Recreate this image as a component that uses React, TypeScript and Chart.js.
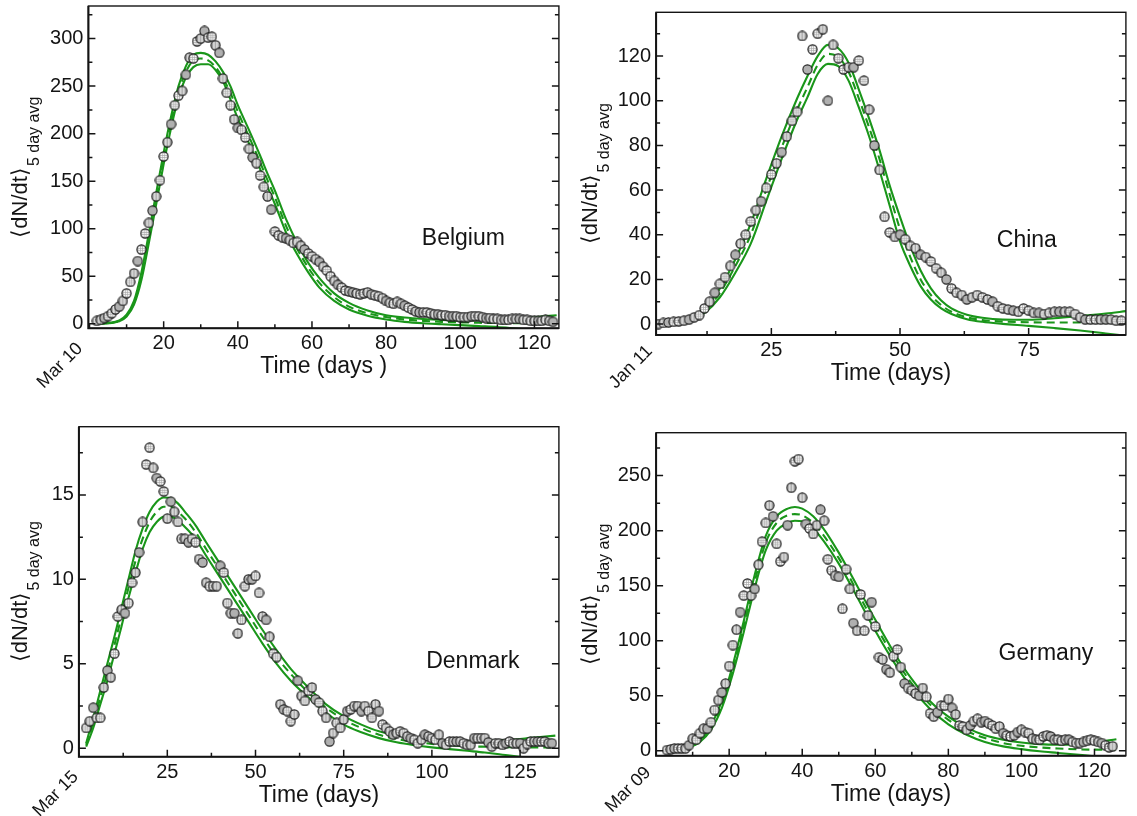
import React, { useEffect, useRef } from "react";
import { Chart, registerables } from "chart.js";

Chart.register(...registerables);

const W = 1137;
const H = 816;
const FONT = '"Liberation Sans", Arial, Helvetica, sans-serif';
const GREEN = "#1a961a";
const INK = "#141414";

// ---------------- Belgium ----------------
const belgiumStartDay = 2;
const belgiumValues = [
  3, 4, 6, 8, 11, 15, 18, 24, 32, 44, 53, 66, 78, 95, 106, 119, 134, 151, 176, 191,
  210, 230, 240, 245, 262, 280, 279, 297, 300, 308, 301, 302, 293, 285, 258, 243, 230, 215, 206, 204,
  196, 184, 175, 169, 156, 144, 134, 120, 97, 93, 91, 90, 88, 85, 86, 82, 78, 74, 71, 68,
  65, 60, 56, 50, 45, 41, 38, 35, 34, 33, 32, 31, 32, 33, 31, 30, 29, 27, 24, 22,
  21, 23, 21, 19, 17, 15, 13, 12, 12, 12, 11, 10, 10, 9, 9, 8, 8, 8, 7, 7,
  7, 8, 8, 8, 7, 6, 6, 5, 5, 4, 4, 4, 5, 5, 5, 4, 4, 3, 3, 3,
  3, 4, 3, 2,
];
const belgiumFitDays = [2, 4, 6, 8, 10, 12, 14, 16, 18, 20, 22, 24, 26, 28, 30, 32, 34, 36, 38, 40, 43, 46, 48, 50, 53, 56, 59, 62, 66, 70, 75, 80, 85, 90, 95, 100, 105, 110, 115, 120, 126];
const belgiumUpper = [0.2, 0.5, 1.2, 3.5, 9.5, 24, 54, 95, 138, 180, 218, 250, 271, 283, 285, 283, 276, 265, 250, 230, 204, 177, 158, 140, 110, 85, 64, 48, 32, 22, 14, 9, 6.5, 5, 4, 3.5, 3.7, 4.3, 5.3, 6.8, 9];
const belgiumMid = [0.15, 0.4, 1, 3, 8.5, 22, 50, 90, 132, 174, 212, 244, 265, 277, 279, 277, 270, 258, 243, 223, 197, 170, 151, 133, 103, 79, 59, 43, 28, 18, 11, 7, 4.5, 3, 2, 1.5, 1, 0.7, 0.5, 0.3, 0.2];
const belgiumLower = [0.1, 0.3, 0.8, 2.5, 7.5, 20, 46, 85, 126, 168, 206, 238, 259, 270, 273, 273, 267, 255, 236, 216, 190, 163, 144, 126, 96, 73, 54, 38, 24, 15, 8.5, 4.5, 2, 0.5, -0.5, -1.5, -2.5, -3.5, -5, -6.5, -8];
const belgiumXTicks = [20, 40, 60, 80, 100, 120];
const belgiumYTicks = [0, 50, 100, 150, 200, 250, 300];

// ---------------- China ----------------
const chinaStartDay = 3;
const chinaValues = [
  0, 0.5, 0.7, 1, 1.2, 1.5, 2, 3, 4, 7, 10, 14, 18, 21, 26, 31, 36, 40, 46, 51,
  55, 61, 67, 72, 77, 84, 91, 95, 129, 114, 123, 130, 132, 100, 125, 119, 114, 115, 115, 118,
  109, 96, 80, 69, 48, 41, 39, 40, 38, 35, 34, 31, 30, 28, 25, 23, 20, 16, 14, 13,
  11, 12, 13, 12, 11, 10, 8, 7, 6.5, 6, 5.5, 7, 6, 5, 5, 4.5, 5, 5.5, 5.5, 5.5,
  5.5, 4.5, 3, 2, 2, 2, 2, 2, 2, 1.5, 1.5,
];
const chinaFitDays = [3, 6, 9, 12, 15, 18, 21, 24, 27, 30, 32, 34, 36, 38, 40, 42, 44, 46, 48, 50, 52, 54, 56, 58, 60, 63, 66, 70, 75, 80, 85, 90, 94];
const chinaUpper = [0.3, 0.8, 2.2, 7, 16, 29, 45, 65, 84, 101, 111, 120, 125, 123.5, 117, 105, 92, 78, 62, 48, 35, 24, 16, 10.5, 7, 4.2, 2.8, 2, 1.9, 2.6, 3.6, 4.7, 5.8];
const chinaMid = [0.2, 0.6, 1.8, 6, 14, 26, 40, 60, 79, 96, 106, 116, 121, 119.5, 113, 101, 88, 74, 58, 42.5, 30, 20, 13, 8.5, 5.5, 3, 1.8, 1.1, 0.8, 0.7, 0.7, 0.7, 0.7];
const chinaLower = [0.1, 0.4, 1.4, 5, 12, 23, 36, 55, 74, 91.5, 101.5, 112, 116.5, 115.5, 109, 97, 84, 69, 53, 37, 26, 17, 11, 7, 4.5, 2.2, 1, 0.1, -0.8, -1.8, -2.9, -4.2, -5.3];
const chinaXTicks = [25, 50, 75];
const chinaYTicks = [0, 20, 40, 60, 80, 100, 120];

// ---------------- Denmark ----------------
const denmarkStartDay = 2;
const denmarkValues = [
  1.2, 1.6, 2.4, 1.8, 1.8, 3.6, 4.6, 4.2, 5.6, 7.8, 8.2, 8.0, 8.6, 9.8, 10.4, 11.6, 13.4, 16.8, 17.8, 16.6,
  16.0, 15.8, 15.2, 13.6, 14.6, 14.0, 13.4, 12.4, 12.4, 12.2, 12.4, 12.2, 11.2, 11.0, 9.8, 9.6, 9.6, 9.6, 10.8, 10.4,
  8.6, 8.0, 8.0, 6.8, 7.6, 9.6, 10.0, 10.0, 10.2, 9.2, 7.8, 7.6, 6.6, 5.6, 5.4, 2.6, 2.3, 2.2, 1.6, 2.0,
  4.0, 3.1, 2.8, 3.4, 3.6, 2.9, 2.7, 2.2, 1.8, 0.4, 0.9, 1.5, 1.2, 1.7, 2.2, 2.3, 2.5, 2.5, 2.2, 2.5,
  2.2, 1.8, 2.6, 2.2, 1.4, 1.2, 1.0, 0.8, 0.9, 1.0, 0.9, 0.7, 0.6, 0.5, 0.3, 0.5, 0.8, 0.7, 0.6, 0.5,
  0.8, 0.3, 0.2, 0.4, 0.4, 0.4, 0.4, 0.3, 0.2, 0.2, 0.6, 0.6, 0.6, 0.6, 0.35, 0.1, 0.3, 0.3, 0.2, 0.3,
  0.4, 0.3, 0.3, 0.3, 0.0, 0.25, 0.4, 0.4, 0.4, 0.4, 0.4, 0.3, 0.3,
];
const denmarkFitDays = [2, 4, 6, 8, 10, 12, 14, 16, 18, 20, 22, 24, 26, 28, 30, 33, 36, 40, 44, 48, 52, 56, 60, 65, 70, 75, 80, 85, 90, 95, 100, 105, 110, 115, 120, 125, 130, 135];
const denmarkUpper = [0.3, 1.8, 3.4, 5.0, 6.6, 8.3, 10.0, 11.7, 13.0, 14.0, 14.6, 14.85, 14.8, 14.5, 14.0, 13.2, 12.2, 10.9, 9.6, 8.3, 7.0, 5.8, 4.7, 3.6, 2.6, 1.9, 1.4, 1.0, 0.75, 0.6, 0.5, 0.42, 0.4, 0.42, 0.48, 0.55, 0.65, 0.75];
const denmarkMid = [0.2, 1.5, 3.0, 4.5, 6.1, 7.8, 9.5, 11.1, 12.4, 13.4, 14.0, 14.3, 14.3, 14.0, 13.6, 12.8, 11.8, 10.5, 9.2, 7.9, 6.6, 5.4, 4.4, 3.3, 2.4, 1.7, 1.2, 0.8, 0.55, 0.38, 0.26, 0.18, 0.12, 0.09, 0.07, 0.06, 0.05, 0.05];
const denmarkLower = [0.1, 1.2, 2.6, 4.0, 5.6, 7.2, 8.9, 10.4, 11.8, 12.8, 13.4, 13.7, 13.7, 13.5, 13.1, 12.4, 11.4, 10.1, 8.8, 7.5, 6.2, 5.0, 4.0, 3.0, 2.1, 1.4, 0.95, 0.6, 0.35, 0.18, 0.05, -0.05, -0.15, -0.25, -0.38, -0.5, -0.65, -0.8];
const denmarkXTicks = [25, 50, 75, 100, 125];
const denmarkYTicks = [0, 5, 10, 15];

// ---------------- Germany ----------------
const germanyStartDay = 3;
const germanyValues = [
  0.6, 1.2, 2, 2, 2, 2, 5, 11, 10, 16, 20, 20, 26, 37, 46, 53, 61, 77, 96, 110,
  126, 141, 152, 141, 147, 169, 190, 207, 223, 213, 188, 172, 176, 205, 239, 263, 265, 230, 206, 202,
  197, 205, 219, 209, 174, 164, 159, 158, 129, 165, 147, 116, 109, 142, 109, 123, 135, 113, 85, 83,
  74, 71, 86, 92, 76, 61, 57, 55, 52, 50, 57, 49, 34, 31, 35, 41, 41, 47, 39, 33,
  23, 22, 19, 23, 27, 29, 26, 27, 25, 23, 20, 22, 16, 14, 13, 14, 17, 19, 17, 16,
  11, 10, 10, 13, 14, 13, 10, 10, 9, 10, 10, 8, 7, 7, 8, 9, 10, 9, 8, 7,
  5, 3, 4,
];
const germanyFitDays = [3, 6, 9, 12, 15, 18, 21, 24, 27, 30, 33, 36, 38, 40, 43, 46, 50, 55, 60, 65, 70, 75, 80, 85, 90, 95, 100, 105, 110, 115, 120, 126];
const germanyUpper = [0.5, 1.5, 4, 10, 23, 45, 78, 118, 160, 195, 213, 220, 221.5, 220, 213, 201, 180, 150, 119, 90, 65, 45, 31, 21, 14, 10, 7.5, 6, 5.5, 6, 7.5, 10.5];
const germanyMid = [0.4, 1.2, 3.5, 9, 21, 42, 74, 113, 154, 189, 207, 214, 215, 214, 207, 195, 175, 145, 114, 86, 61, 42, 28, 18, 11.5, 7, 4.5, 3, 2, 1.3, 1, 0.8];
const germanyLower = [0.3, 1, 3, 8, 19, 39, 70, 108, 148, 182, 200, 207, 209, 208.5, 202, 190, 170, 140, 109, 81, 57, 38, 24, 14.5, 8, 4, 1.5, -0.5, -2, -3.5, -5, -6.5];
const germanyXTicks = [20, 40, 60, 80, 100, 120];
const germanyYTicks = [0, 50, 100, 150, 200, 250];

type PanelSpec = {
  name: string;
  date: string;
  xTitle: string;
  startDay: number;
  values: number[];
  fitDays: number[];
  upper: number[];
  mid: number[];
  lower: number[];
  xTicks: number[];
  yTicks: number[];
  xMinorStep: number;
  yMinorStep: number;
  xMin: number;
  xMax: number;
  yMin: number;
  yMax: number;
  area: { left: number; top: number; right: number; bottom: number };
  namePos: [number, number];
  titleX: number;
  dateOff: [number, number];
};

const panels: PanelSpec[] = [
  {
    name: "Belgium", date: "Mar 10", xTitle: "Time (days )",
    startDay: belgiumStartDay, values: belgiumValues,
    fitDays: belgiumFitDays, upper: belgiumUpper, mid: belgiumMid, lower: belgiumLower,
    xTicks: belgiumXTicks, yTicks: belgiumYTicks, xMinorStep: 10, yMinorStep: 25,
    xMin: -0.3, xMax: 126.6, yMin: -4.8, yMax: 334.3,
    area: { left: 88.4, top: 5, right: 558.9, bottom: 328.3 },
    namePos: [421.8, 245], titleX: 26.5, dateOff: [-5, 21],
  },
  {
    name: "China", date: "Jan 11", xTitle: "Time (days)",
    startDay: chinaStartDay, values: chinaValues,
    fitDays: chinaFitDays, upper: chinaUpper, mid: chinaMid, lower: chinaLower,
    xTicks: chinaXTicks, yTicks: chinaYTicks, xMinorStep: 12.5, yMinorStep: 10,
    xMin: 2.6, xMax: 93.9, yMin: -4.9, yMax: 139.6,
    area: { left: 656.1, top: 12.3, right: 1125.9, bottom: 335 },
    namePos: [996.8, 246.7], titleX: 596.5, dateOff: [-3, 17],
  },
  {
    name: "Denmark", date: "Mar 15", xTitle: "Time (days)",
    startDay: denmarkStartDay, values: denmarkValues,
    fitDays: denmarkFitDays, upper: denmarkUpper, mid: denmarkMid, lower: denmarkLower,
    xTicks: denmarkXTicks, yTicks: denmarkYTicks, xMinorStep: 12.5, yMinorStep: 2.5,
    xMin: -0.06, xMax: 136, yMin: -0.5, yMax: 19.04,
    area: { left: 78.9, top: 426.7, right: 558.9, bottom: 756.7 },
    namePos: [426.2, 667.7], titleX: 26.5, dateOff: [0.3, 21],
  },
  {
    name: "Germany", date: "Mar 09", xTitle: "Time (days)",
    startDay: germanyStartDay, values: germanyValues,
    fitDays: germanyFitDays, upper: germanyUpper, mid: germanyMid, lower: germanyLower,
    xTicks: germanyXTicks, yTicks: germanyYTicks, xMinorStep: 10, yMinorStep: 25,
    xMin: 0, xMax: 128.6, yMin: -4.5, yMax: 289,
    area: { left: 656.1, top: 432.7, right: 1125.9, bottom: 755.7 },
    namePos: [998.6, 660], titleX: 596.5, dateOff: [-4.5, 17.6],
  },
];

function makeMarker(kind: number): HTMLCanvasElement {
  const s = 11;
  const c = document.createElement("canvas");
  c.width = s;
  c.height = s;
  const g = c.getContext("2d")!;
  const cx = 5.5, cy = 5.5, r = 4.6;
  g.beginPath();
  g.arc(cx, cy, r, 0, Math.PI * 2);
  g.fillStyle = kind === 0 ? "#b0b0b0" : "#a6a6a6";
  g.fill();
  g.save();
  g.clip();
  if (kind === 1) {
    g.fillStyle = "#ffffff";
    for (const i of [3.2, 5.5, 7.8]) for (const j of [3.2, 5.5, 7.8]) g.fillRect(i - 0.8, j - 0.8, 1.6, 1.6);
  } else if (kind === 2) {
    g.fillStyle = "#f2f2f2";
    for (const xx of [3.3, 6.3]) g.fillRect(xx, 0, 1.2, s);
  }
  g.restore();
  g.beginPath();
  g.arc(cx, cy, r, 0, Math.PI * 2);
  g.lineWidth = 1.1;
  g.strokeStyle = "#1e1e1e";
  g.stroke();
  return c;
}

const markerCycle = [1, 2, 0, 1, 1, 2, 0, 2, 1];

function minorValues(min: number, max: number, step: number, majors: number[]) {
  const out: number[] = [];
  const start = Math.ceil(min / step) * step;
  for (let v = start; v <= max + 1e-9; v += step) {
    if (!majors.some((m) => Math.abs(m - v) < 1e-6)) out.push(v);
  }
  return out;
}

function makePlugin(p: PanelSpec) {
  return {
    id: "frame-" + p.name,
    afterDatasetsDraw(chart: any) {
      const { ctx, chartArea: a, scales } = chart;
      const xs = scales.x;
      const ys = scales.y;
      ctx.save();
      ctx.strokeStyle = INK;
      ctx.fillStyle = INK;
      // frame
      ctx.lineWidth = 1.4;
      ctx.strokeRect(a.left, a.top, a.right - a.left, a.bottom - a.top);
      ctx.lineWidth = 2;
      ctx.beginPath();
      ctx.moveTo(a.left, a.top);
      ctx.lineTo(a.left, a.bottom);
      ctx.lineTo(a.right, a.bottom);
      ctx.stroke();
      // ticks
      ctx.lineWidth = 1.5;
      ctx.beginPath();
      for (const v of p.xTicks) {
        const px = xs.getPixelForValue(v);
        ctx.moveTo(px, a.bottom);
        ctx.lineTo(px, a.bottom - 7);
      }
      for (const v of minorValues(p.xMin, p.xMax, p.xMinorStep, p.xTicks)) {
        const px = xs.getPixelForValue(v);
        ctx.moveTo(px, a.bottom);
        ctx.lineTo(px, a.bottom - 4);
      }
      for (const v of p.yTicks) {
        const py = ys.getPixelForValue(v);
        ctx.moveTo(a.left, py);
        ctx.lineTo(a.left + 7, py);
        ctx.moveTo(a.right, py);
        ctx.lineTo(a.right - 7, py);
      }
      for (const v of minorValues(p.yMin, p.yMax, p.yMinorStep, p.yTicks)) {
        const py = ys.getPixelForValue(v);
        ctx.moveTo(a.left, py);
        ctx.lineTo(a.left + 4, py);
        ctx.moveTo(a.right, py);
        ctx.lineTo(a.right - 4, py);
      }
      ctx.stroke();

      // tick labels
      ctx.font = `20px ${FONT}`;
      ctx.textAlign = "center";
      ctx.textBaseline = "alphabetic";
      for (const v of p.xTicks) {
        ctx.fillText(String(v), xs.getPixelForValue(v), a.bottom + 21);
      }
      ctx.textAlign = "right";
      ctx.textBaseline = "middle";
      for (const v of p.yTicks) {
        ctx.fillText(String(v), a.left - 5, ys.getPixelForValue(v));
      }

      // x title
      ctx.font = `23px ${FONT}`;
      ctx.textAlign = "center";
      ctx.textBaseline = "alphabetic";
      ctx.fillText(p.xTitle, (a.left + a.right) / 2, a.bottom + 45);

      // y title with subscript
      const main = "\u27E8dN/dt\u27E9";
      const sub = "5 day avg";
      const mainFont = `22px ${FONT}`;
      const subFont = `16px ${FONT}`;
      ctx.font = mainFont;
      const mw = ctx.measureText(main).width;
      ctx.font = subFont;
      const sw = ctx.measureText(sub).width;
      const total = mw + 1 + sw;
      ctx.save();
      ctx.translate(p.titleX, (a.top + a.bottom) / 2);
      ctx.rotate(-Math.PI / 2);
      ctx.textAlign = "left";
      ctx.textBaseline = "alphabetic";
      ctx.font = mainFont;
      ctx.fillText(main, -total / 2, 0);
      ctx.font = subFont;
      ctx.fillText(sub, -total / 2 + mw + 1, 12.5);
      ctx.restore();

      // date label
      ctx.save();
      ctx.translate(a.left + p.dateOff[0], a.bottom + p.dateOff[1]);
      ctx.rotate(-Math.PI / 4);
      ctx.font = `18px ${FONT}`;
      ctx.textAlign = "right";
      ctx.textBaseline = "alphabetic";
      ctx.fillText(p.date, 0, 0);
      ctx.restore();

      // country name
      ctx.font = `23px ${FONT}`;
      ctx.textAlign = "left";
      ctx.textBaseline = "alphabetic";
      ctx.fillText(p.name, p.namePos[0], p.namePos[1]);

      ctx.restore();
    },
  };
}

function Panel({ p }: { p: PanelSpec }) {
  const ref = useRef<HTMLCanvasElement>(null);
  useEffect(() => {
    const markers = [makeMarker(0), makeMarker(1), makeMarker(2)];
    const pts = p.values.map((v, i) => ({ x: p.startDay + i, y: v }));
    const fit = (arr: number[]) => p.fitDays.map((d, i) => ({ x: d, y: arr[i] }));
    const lineBase = {
      type: "line" as const,
      borderColor: GREEN,
      borderWidth: 2.1,
      pointRadius: 0,
      fill: false,
      cubicInterpolationMode: "monotone" as const,
      order: 1,
    };
    const chart = new Chart(ref.current!, {
      type: "scatter",
      data: {
        datasets: [
          {
            type: "scatter",
            label: p.name,
            data: pts,
            pointStyle: (c: any) => markers[markerCycle[c.dataIndex % markerCycle.length]],
            pointRadius: 5,
            order: 0,
          } as any,
          { ...lineBase, label: "upper", data: fit(p.upper) },
          { ...lineBase, label: "fit", data: fit(p.mid), borderDash: [8, 5] },
          { ...lineBase, label: "lower", data: fit(p.lower) },
        ],
      },
      options: {
        animation: false,
        responsive: false,
        devicePixelRatio: 1,
        events: [],
        layout: {
          padding: {
            left: p.area.left,
            top: p.area.top,
            right: W - p.area.right,
            bottom: H - p.area.bottom,
          },
        },
        plugins: { legend: { display: false }, tooltip: { enabled: false }, title: { display: false } },
        scales: {
          x: { type: "linear", display: false, min: p.xMin, max: p.xMax },
          y: { type: "linear", display: false, min: p.yMin, max: p.yMax },
        },
      },
      plugins: [makePlugin(p)],
    } as any);
    return () => chart.destroy();
  }, [p]);
  return (
    <canvas
      ref={ref}
      width={W}
      height={H}
      style={{ position: "absolute", left: 0, top: 0, width: W, height: H }}
    />
  );
}

export default function App() {
  return (
    <div style={{ position: "absolute", left: 0, top: 0, width: W, height: H, background: "#ffffff", overflow: "hidden" }}>
      {panels.map((p) => (
        <Panel key={p.name} p={p} />
      ))}
    </div>
  );
}
